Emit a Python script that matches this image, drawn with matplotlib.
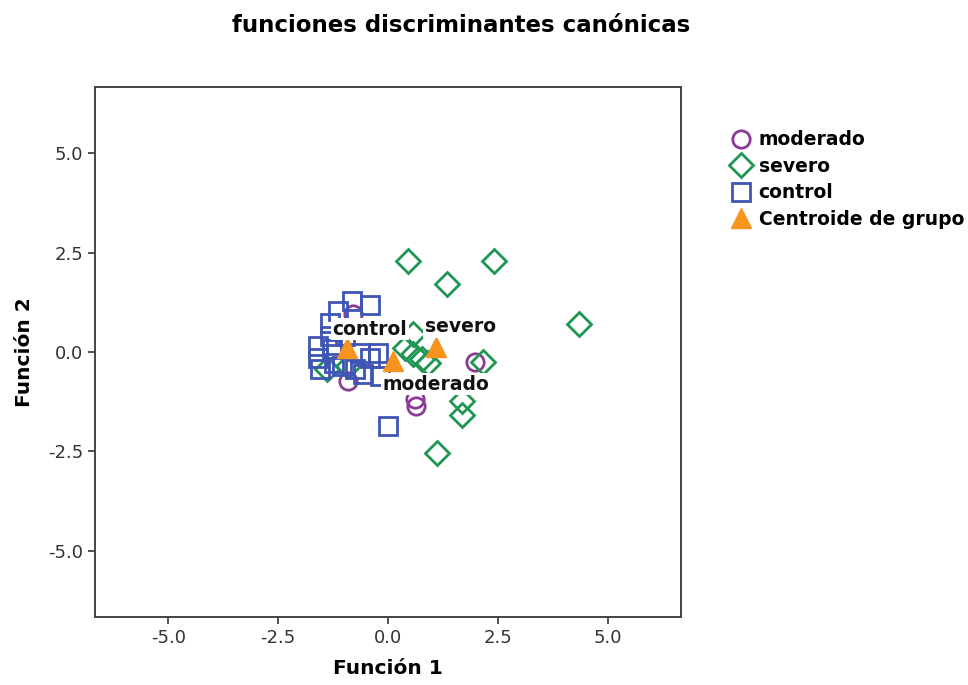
import numpy as np
import matplotlib
matplotlib.use('Agg')
import matplotlib.pyplot as plt

# canonical discriminant scores per group
moderado_x = [1.99, 0.62, 0.64, -0.91, -0.80]
moderado_y = [-0.25, -1.18, -1.36, -0.73, 0.95]

severo_x = [0.46, 2.42, 1.35, 4.34, 2.17, 1.69, 1.69, 1.12, 0.39, 0.57, 0.78, 0.91, 0.57, -1.39, -0.91]
severo_y = [2.29, 2.29, 1.71, 0.70, -0.25, -1.23, -1.58, -2.54, 0.10, -0.05, -0.18, -0.28, 0.45, -0.43, -0.35]

control_x = [-0.82, -0.41, -1.14, -1.32, -1.32, -1.60, -1.60, -1.55, -1.28, -1.23,
             -1.05, -0.75, -0.57, -0.41, -0.23, -0.18, -0.64, 0.00, -0.98]
control_y = [1.28, 1.18, 1.03, 0.73, 0.40, 0.15, -0.15, -0.43, 0.08, -0.28,
             -0.35, -0.43, -0.55, -0.15, -0.03, -0.60, -0.03, -1.86, 0.40]

centroid_names = ['control', 'severo', 'moderado']
centroid_x = [-0.94, 1.10, 0.11]
centroid_y = [0.10, 0.13, -0.23]

purple = '#8b3a96'
green = '#1f9651'
blue = '#3f55b5'
orange = '#f7941d'

fig = plt.figure(figsize=(9.68, 6.85), dpi=100)
ax = fig.add_axes([0.0981, 0.0993, 0.6054, 0.7737])

ax.plot(moderado_x, moderado_y, 'o', ms=12.5, mfc='none', mec=purple, mew=2, label='moderado')
ax.plot(severo_x, severo_y, 'D', ms=12.5, mfc='none', mec=green, mew=2, label='severo')
ax.plot(control_x, control_y, 's', ms=13.5, mfc='none', mec=blue, mew=2, label='control')
ax.plot(centroid_x, centroid_y, '^', ms=14, color=orange, mec=orange, label='Centroide de grupo')

# group names next to the centroids
offsets = {'control': (-14, 19), 'severo': (-11, 20), 'moderado': (-10, -23)}
for name, cx, cy in zip(centroid_names, centroid_x, centroid_y):
    ax.annotate(name, (cx, cy), xytext=offsets[name], textcoords='offset pixels',
                ha='left', va='center', fontsize=13.5, fontweight='bold', color='#111111',
                bbox=dict(boxstyle='square,pad=0.1', fc='white', ec='none'))

ax.set_xlim(-6.67, 6.67)
ax.set_ylim(-6.67, 6.67)
ticks = [-5.0, -2.5, 0.0, 2.5, 5.0]
ax.set_xticks(ticks)
ax.set_yticks(ticks)
ax.set_xticklabels(['%.1f' % t for t in ticks])
ax.set_yticklabels(['%.1f' % t for t in ticks])
ax.tick_params(direction='out', length=5, width=1.2, colors='#333333', labelsize=13, labelcolor='#333333')
for s in ax.spines.values():
    s.set_color('#444444')
    s.set_linewidth(1.4)

ax.set_xlabel('Función 1', fontsize=14.5, fontweight='bold', labelpad=9)
ax.set_ylabel('Función 2', fontsize=14.5, fontweight='bold', labelpad=10)
fig.text(461 / 968, 1 - 25 / 685, 'funciones discriminantes canónicas', ha='center', va='center',
         fontsize=16.5, fontweight='bold')

leg = ax.legend(loc='upper left', bbox_to_anchor=(722 / 968, 1 - 121 / 685), bbox_transform=fig.transFigure,
                frameon=False, handlelength=1.0, handletextpad=0.45, labelspacing=0.4, borderpad=0,
                prop={'weight': 'bold', 'size': 13.5})

fig.savefig('out.png', dpi=100)
